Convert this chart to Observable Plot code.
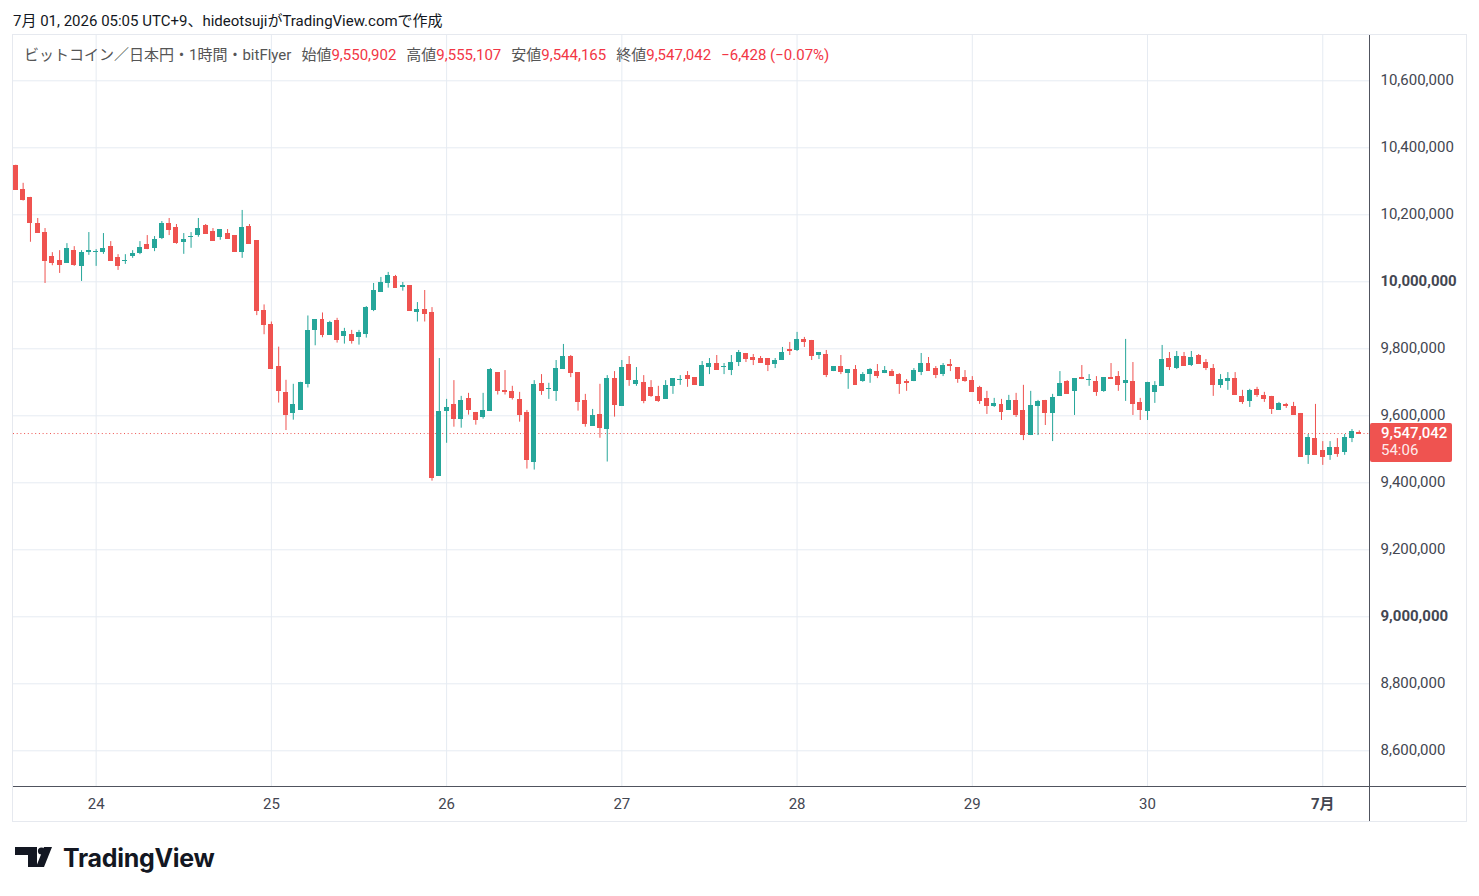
<!DOCTYPE html>
<html>
<head>
<meta charset="utf-8">
<script src="https://cdn.jsdelivr.net/npm/d3@7"></script>
<script src="https://cdn.jsdelivr.net/npm/@observablehq/plot@0.6"></script>
<style>
  html, body { margin: 0; padding: 0; background: #fff; }
  body { width: 1479px; height: 896px; position: relative; overflow: hidden;
         font-family: Roboto, "Noto Sans CJK JP", sans-serif; }
  #credit { position: absolute; left: 13px; top: 9px; font-size: 15px; color: #131722; white-space: pre; }
  #frame { position: absolute; left: 12px; top: 34px; width: 1455px; height: 788px;
           border: 1px solid #e6e9ef; box-sizing: border-box; }
  #chart { position: absolute; left: 13px; top: 35px; }
  #vline { position: absolute; left: 1369px; top: 35px; width: 1px; height: 786px; background: #50535e; }
  #hline { position: absolute; left: 13px; top: 786px; width: 1453px; height: 1px; background: #50535e; }
  #legend { position: absolute; left: 24px; top: 43px; font-size: 15px; color: #555; white-space: pre; }
  #legend .g { margin-left: 10px; }
  #legend .v { color: #f23645; }
  #logo { position: absolute; left: 15px; top: 843px; display: flex; align-items: center; }
  #logo span { font-family: Inter, Lato, sans-serif; font-weight: 700; font-size: 25px; color: #131722;
               margin-left: 10px; letter-spacing: -0.3px; }
</style>
</head>
<body>
<div id="credit">7月 01, 2026 05:05 UTC+9、hideotsujiがTradingView.comで作成</div>
<div id="frame"></div>
<div id="chart"></div>
<div id="vline"></div>
<div id="hline"></div>
<div id="legend"></div>
<div id="logo">
  <svg width="38" height="22" viewBox="0 0 38 22">
    <path d="M0 0 H22 V20 H13 V8 H0 Z" fill="#131722"/>
    <circle cx="26.5" cy="4" r="3.6" fill="#131722"/>
    <path d="M29 0 H37 L29 20 H21 Z" fill="#131722"/>
  </svg>
  <span>TradingView</span>
</div>
<script>
// ---- data: BTC/JPY 1h candles, bitFlyer (values in thousand yen) ----
const START_JST = Date.UTC(2026, 5, 23, 13); // first candle: 6/23 13:00 (JST wall clock)
const HOUR = 3600e3;
const UNIT = 1000;

const open = [
  10346,10277,10252,10174,10147,10075,10063,10055,10093,10046,10088,10086,10088,10105,10072,10061,10076,10084,10111,10099,10129,10174,10162,
  10118,10131,10139,10168,10150,10133,10144,10138,10088,10165,10123,9913,9874,9748,9670,9608,9617,9692,9854,9886,
  9841,9885,9838,9843,9835,9844,9914,9969,9995,10016,9984,9989,9909,9917,9908,9420,9614,9634,9590,9652,9610,9596,
  9614,9729,9676,9673,9649,9610,9462,9697,9679,9673,9738,9777,9729,9646,9569,9604,9560,9711,9629,9753,9694,
  9700,9685,9658,9649,9688,9707,9720,9714,9688,9744,9756,9746,9735,9759,9786,9774,9771,9771,9753,9765,9798,9795,9828,
  9825,9780,9783,9732,9747,9726,9738,9702,9723,9732,9726,9732,9723,9702,9702,9729,9756,9741,9723,9753,9744,9714,
  9705,9685,9652,9628,9634,9616,9646,9616,9541,9628,9646,9607,9658,9702,9673,9714,9706,9702,9673,9714,9717,9697,9702,
  9640,9613,9670,9688,9771,9741,9777,9750,9780,9759,9741,9691,9702,9711,9658,9643,9679,9661,9658,9616,9634,9628,
  9607,9482,9532,9497,9482,9505,9491,9532,9550.902
];
const high = [
  10348,10294,10252,10189,10159,10087,10093,10114,10105,10093,10147,10096,10144,10120,10081,10081,10093,10120,10138,10135,10180,10189,10171,
  10144,10147,10189,10171,10159,10156,10156,10138,10213,10171,10123,9931,9880,9805,9706,9694,9700,9898,9886,9907,
  9882,9891,9861,9855,9855,9926,9995,10013,10028,10019,9998,9989,9938,9974,9923,9771,9649,9705,9658,9667,9610,9667,
  9741,9729,9735,9688,9670,9616,9705,9723,9697,9765,9813,9780,9729,9664,9619,9694,9720,9732,9765,9777,9744,
  9720,9705,9688,9705,9711,9720,9732,9714,9762,9771,9780,9756,9780,9795,9786,9783,9777,9771,9771,9804,9819,9849,9834,
  9825,9789,9795,9747,9780,9738,9750,9729,9741,9753,9747,9738,9726,9708,9741,9786,9774,9747,9756,9768,9744,9735,
  9717,9688,9673,9652,9649,9661,9667,9691,9673,9646,9646,9664,9732,9705,9711,9750,9723,9717,9714,9756,9732,9828,9759,
  9652,9700,9702,9810,9789,9792,9789,9792,9783,9768,9753,9723,9729,9729,9676,9679,9685,9670,9658,9640,9637,9640,
  9607,9544,9634,9523,9523,9532,9544,9559,9555.107
];
const low = [
  10276,10241,10118,10148,9995,10048,10025,10055,10046,10001,10079,10046,10082,10064,10034,10052,10070,10081,10096,10090,10126,10138,10112,
  10082,10100,10133,10145,10124,10124,10130,10091,10070,10115,9899,9842,9740,9638,9556,9587,9617,9683,9809,9833,
  9841,9817,9814,9814,9811,9832,9911,9969,9981,9984,9972,9915,9880,9880,9405,9420,9518,9566,9563,9602,9572,9590,
  9614,9662,9662,9647,9581,9441,9438,9661,9649,9643,9738,9714,9614,9566,9569,9533,9462,9596,9629,9688,9688,
  9636,9655,9640,9649,9664,9691,9685,9691,9688,9723,9738,9723,9720,9747,9759,9750,9759,9732,9741,9765,9780,9792,9804,
  9765,9768,9714,9732,9723,9679,9691,9700,9697,9711,9726,9717,9664,9673,9702,9720,9735,9711,9717,9732,9697,9700,
  9670,9634,9604,9625,9586,9616,9595,9526,9541,9541,9571,9523,9658,9667,9601,9708,9688,9658,9670,9712,9673,9643,9601,
  9586,9586,9637,9688,9735,9738,9750,9747,9756,9735,9658,9682,9676,9661,9634,9625,9655,9640,9604,9616,9622,9601,
  9479,9455,9485,9452,9467,9476,9482,9520,9544.165
];
const close = [
  10277,10247,10178,10148,10064,10058,10052,10099,10052,10087,10093,10090,10099,10064,10049,10063,10084,10102,10099,10126,10174,10157,10117,
  10125,10135,10159,10145,10124,10156,10130,10091,10162,10115,9914,9872,9740,9677,9605,9634,9700,9856,9886,9842,
  9879,9829,9852,9826,9849,9923,9974,9998,10019,9984,9989,9915,9916,9906,9417,9613,9625,9593,9646,9620,9590,9616,
  9738,9676,9674,9656,9605,9471,9694,9676,9681,9741,9777,9729,9644,9578,9601,9566,9711,9635,9744,9708,9705,
  9646,9661,9646,9691,9711,9709,9711,9694,9750,9756,9738,9748,9759,9789,9771,9768,9759,9753,9765,9789,9795,9828,9823,
  9780,9789,9723,9747,9732,9738,9694,9723,9738,9720,9735,9720,9697,9700,9735,9756,9735,9723,9750,9751,9711,9705,
  9673,9646,9631,9637,9613,9646,9604,9544,9631,9643,9610,9655,9697,9667,9711,9711,9708,9673,9714,9712,9694,9705,9637,
  9619,9700,9691,9768,9747,9777,9750,9774,9756,9744,9694,9708,9711,9664,9643,9676,9664,9652,9622,9637,9632,9604,
  9479,9535,9485,9479,9505,9488,9535,9553.470,9547.042
];

const yTicks = [8600000, 8800000, 9000000, 9200000, 9400000, 9600000, 9800000, 10000000, 10200000, 10400000, 10600000];
const dayTicks = ["2026-06-24", "2026-06-25", "2026-06-26", "2026-06-27", "2026-06-28", "2026-06-29", "2026-06-30", "2026-07-01"];
const pairLabel = "ビットコイン／日本円・1時間・bitFlyer";
const countdown = "54:06";

// ---- styles ----
const UP = "#26a69a", DOWN = "#ef5350", GRID = "#e6ebf2", AXIS_TEXT = "#434651";
const FONT = 'Roboto, "Noto Sans CJK JP", sans-serif';

// ---- table ----
const candles = open.map((o, i) => ({
  time: new Date(START_JST + i * HOUR),
  open: o * UNIT, high: high[i] * UNIT, low: low[i] * UNIT, close: close[i] * UNIT,
  dir: close[i] >= o ? "up" : "down"
}));
const last = candles[candles.length - 1];
const prev = candles[candles.length - 2];
const days = dayTicks.map(s => new Date(s + "T00:00:00Z"));

// ---- legend (header inside chart) ----
const fmt = d3.format(",");
const chg = Math.round(last.close - prev.close);
const pct = (chg / prev.close * 100).toFixed(2);
const minus = s => String(s).replace("-", "−");
document.getElementById("legend").innerHTML =
  `<span>${pairLabel}</span>` +
  `<span class="g">始値<span class="v">${fmt(Math.round(last.open))}</span></span>` +
  `<span class="g">高値<span class="v">${fmt(Math.round(last.high))}</span></span>` +
  `<span class="g">安値<span class="v">${fmt(Math.round(last.low))}</span></span>` +
  `<span class="g">終値<span class="v">${fmt(Math.round(last.close))}</span></span>` +
  `<span class="g v">${minus(fmt(chg))} (${minus(pct)}%)</span>`;

// ---- chart ----
const W = 1453, H = 786, MR = 97, MB = 35;
const half = 0.34 * HOUR;
const x1 = d => new Date(+d.time - half);
const x2 = d => new Date(+d.time + half);

const chart = Plot.plot({
  width: W, height: H,
  marginLeft: 0, marginRight: MR, marginTop: 0, marginBottom: MB,
  style: { fontFamily: FONT, fontSize: "15px", color: AXIS_TEXT, background: "transparent" },
  x: { type: "utc", domain: [new Date(START_JST - 0.32 * HOUR), new Date(START_JST + 185.4 * HOUR)] },
  y: { domain: [8493433, 10735224] },
  color: { domain: ["up", "down"], range: [UP, DOWN] },
  marks: [
    Plot.gridY(yTicks, { stroke: GRID, strokeOpacity: 1 }),
    Plot.gridX(days, { stroke: GRID, strokeOpacity: 1 }),
    Plot.axisY(yTicks, { anchor: "right", tickSize: 0, tickPadding: 11, tickFormat: d3.format(","), dy: -1 }),
    Plot.axisX(days, {
      anchor: "bottom", tickSize: 0, tickPadding: 12,
      tickFormat: d => d.getUTCDate() === 1 ? `${d.getUTCMonth() + 1}月` : String(d.getUTCDate())
    }),
    Plot.ruleY([last.close], { stroke: DOWN, strokeDasharray: "1,2.7", strokeWidth: 1 }),
    Plot.ruleX(candles, { x: "time", y1: "low", y2: "high", stroke: "dir", strokeWidth: 1, clip: true }),
    Plot.rect(candles, { x1, x2, y1: "open", y2: "close", fill: "dir", shapeRendering: "crispEdges", clip: true }),
    Plot.ruleY(candles, { y: "close", x1, x2, stroke: "dir", strokeWidth: 1, shapeRendering: "crispEdges", clip: true })
  ]
});
document.getElementById("chart").appendChild(chart);

// emphasize round levels and month label like the source
const svg = d3.select(chart);
svg.selectAll('g[aria-label="y-axis tick label"] text')
  .filter(function () { return /^\d+,000,000$/.test(this.textContent); })
  .attr("font-weight", 700);
svg.selectAll('g[aria-label="x-axis tick label"] text')
  .filter(function () { return this.textContent.includes("月"); })
  .attr("font-weight", 700);

// last-price tag on the price scale, placed through the y scale
const yPix = chart.scale("y").apply(last.close);
const tagX = W - MR + 1;
const tag = svg.append("g").attr("font-family", FONT).attr("font-size", 15).attr("text-anchor", "start");
tag.append("rect").attr("x", tagX).attr("y", yPix - 10).attr("width", 82).attr("height", 39)
  .attr("rx", 2).attr("fill", DOWN);
tag.append("text").attr("x", tagX + 11).attr("y", yPix + 5).attr("fill", "#fff")
  .attr("font-weight", 500).text(fmt(Math.round(last.close)));
tag.append("text").attr("x", tagX + 11).attr("y", yPix + 22).attr("fill", "#fff").attr("fill-opacity", 0.9)
  .text(countdown);
</script>
</body>
</html>
